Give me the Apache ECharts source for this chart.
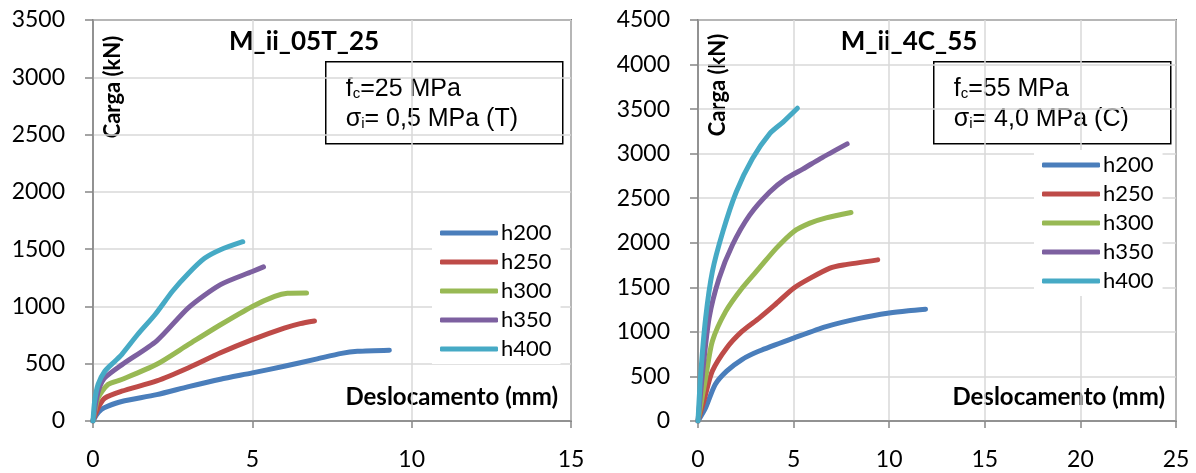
<!DOCTYPE html>
<html>
<head>
<meta charset="utf-8">
<script src="https://cdn.jsdelivr.net/npm/echarts@6/dist/echarts.min.js"></script>
<style>
  html, body { margin: 0; padding: 0; background: #fff; }
  #chart { width: 1196px; height: 473px; }
</style>
</head>
<body>
<div id="chart"></div>
<script>
// names of the curves (same in both panels)
const seriesNames = ['h200', 'h250', 'h300', 'h350', 'h400'];
const seriesColors = ['#4A7EBB', '#BE4B48', '#98B954', '#7D60A0', '#46AAC5'];

// left panel: M_ii_05T_25  [deslocamento (mm), carga (kN)]
const leftH200 = [[0, 0], [0.1, 50], [0.26, 100], [0.47, 130], [0.9, 170], [2, 230], [3, 300], [4, 365], [5, 420], [6, 478], [7, 540], [7.8, 590], [8.3, 608], [9.3, 618]];
const leftH250 = [[0, 0], [0.16, 115], [0.37, 200], [0.9, 260], [2, 350], [3, 465], [4, 595], [5, 710], [6, 810], [6.5, 850], [6.95, 873]];
const leftH300 = [[0, 0], [0.16, 200], [0.47, 318], [0.9, 362], [2, 495], [3, 668], [4, 840], [5, 1000], [5.7, 1088], [6.1, 1115], [6.7, 1118]];
const leftH350 = [[0, 0], [0.1, 180], [0.2, 290], [0.37, 377], [0.9, 490], [2, 700], [3, 990], [4, 1190], [5, 1305], [5.35, 1345]];
const leftH400 = [[0, 0], [0.05, 170], [0.16, 320], [0.37, 435], [0.68, 520], [0.9, 580], [1.4, 755], [1.95, 930], [2.5, 1135], [3, 1290], [3.5, 1420], [4, 1495], [4.7, 1565]];

// right panel: M_ii_4C_55
const rightH200 = [[0, 0], [0.4, 150], [0.9, 410], [1.5, 560], [2.3, 690], [3.2, 785], [5, 930], [6.7, 1060], [8.5, 1155], [10, 1212], [11, 1238], [11.9, 1255]];
const rightH250 = [[0, 0], [0.3, 220], [0.75, 560], [1.5, 820], [2.3, 1005], [3.2, 1155], [4, 1300], [5, 1490], [5.85, 1600], [6.9, 1715], [7.6, 1750], [9.4, 1808]];
const rightH300 = [[0, 0], [0.4, 485], [0.75, 895], [1.45, 1230], [2.3, 1490], [3.2, 1715], [4.1, 1940], [5, 2125], [5.85, 2220], [6.7, 2280], [8, 2340]];
const rightH350 = [[0, 0], [0.23, 520], [0.58, 1155], [1.1, 1600], [1.8, 1975], [2.7, 2310], [3.75, 2570], [4.6, 2720], [5.5, 2830], [6.4, 2945], [7.8, 3110]];
const rightH400 = [[0, 0], [0.14, 520], [0.4, 1155], [0.75, 1675], [1.3, 2125], [2, 2570], [2.85, 2945], [3.75, 3225], [4.45, 3355], [5.2, 3510]];

const leftData = [leftH200, leftH250, leftH300, leftH350, leftH400];
const rightData = [rightH200, rightH250, rightH300, rightH350, rightH400];

const calibriLike = 'Lato, "Open Sans", sans-serif';
const arialLike = '"Liberation Sans", Arial, sans-serif';

function xAxisFor(gridIndex, max) {
  return {
    type: 'value',
    gridIndex: gridIndex,
    min: 0,
    max: max,
    interval: 5,
    axisLine: { show: true, onZero: false, lineStyle: { color: '#868686', width: 1.5 } },
    axisTick: { show: true, length: 7, lineStyle: { color: '#868686', width: 1.5 } },
    splitLine: { show: true, lineStyle: { color: '#d9d9d9', width: 1.5 } },
    axisLabel: { margin: 27, fontSize: 23, color: '#000', fontFamily: calibriLike, formatter: v => String(v) }
  };
}

function yAxisFor(gridIndex, max) {
  return {
    type: 'value',
    gridIndex: gridIndex,
    min: 0,
    max: max,
    interval: 500,
    axisLine: { show: true, lineStyle: { color: '#868686', width: 1.5 } },
    axisTick: { show: true, length: 8, lineStyle: { color: '#868686', width: 1.5 } },
    splitLine: { show: true, lineStyle: { color: '#d9d9d9', width: 1.5 } },
    axisLabel: { margin: 28, fontSize: 23, color: '#000', fontFamily: calibriLike, formatter: v => String(v) }
  };
}

function buildSeries(dataSets, axisIndex) {
  return dataSets.map((d, i) => ({
    name: seriesNames[i],
    type: 'line',
    xAxisIndex: axisIndex,
    yAxisIndex: axisIndex,
    data: d,
    smooth: 0.25,
    showSymbol: false,
    silent: true,
    color: seriesColors[i],
    lineStyle: { width: 5, cap: 'round', join: 'round', color: seriesColors[i] }
  }));
}

function legendFor(left, top) {
  return {
    orient: 'vertical',
    left: left,
    top: top,
    data: seriesNames,
    icon: 'roundRect',
    itemWidth: 58,
    itemHeight: 5,
    itemGap: 5,
    padding: [3, 9, 3, 8],
    backgroundColor: '#fff',
    selectedMode: false,
    textStyle: { fontSize: 22, lineHeight: 24, color: '#000', fontFamily: calibriLike, padding: [0, 0, 0, -2] }
  };
}

function infoBox(x, y, line1, line2) {
  const rich = {
    n: { fontSize: 25, fontFamily: arialLike, fill: '#000' },
    s: { fontSize: 15, fontFamily: arialLike, fill: '#000', verticalAlign: 'bottom' }
  };
  return {
    type: 'group',
    left: x,
    top: y,
    children: [
      { type: 'rect', shape: { x: 0, y: 0, width: 237, height: 82 }, style: { fill: '#fff', stroke: '#000', lineWidth: 1.5 } },
      { type: 'text', x: 20, y: 27, style: { text: line1, fill: '#000', verticalAlign: 'middle', rich: rich } },
      { type: 'text', x: 20, y: 57, style: { text: line2, fill: '#000', verticalAlign: 'middle', rich: rich } }
    ]
  };
}

function boldText(x, y, text, extra) {
  return Object.assign({
    type: 'text', x: x, y: y,
    style: Object.assign({ text: text, fontSize: 24, fontWeight: 'bold', fontFamily: calibriLike, fill: '#000', align: 'right', verticalAlign: 'middle' }, (extra && extra.style) || {})
  }, extra && extra.rotation ? { rotation: extra.rotation } : {});
}

const chart = echarts.init(document.getElementById('chart'), null, { renderer: 'canvas' });

const option = {
  animation: false,
  backgroundColor: '#fff',
  grid: [
    { left: 93, top: 20, width: 478, bottom: 52, show: true, borderColor: '#1a1a1a', borderWidth: 1.5, backgroundColor: 'transparent' },
    { left: 698, top: 20, width: 478, bottom: 52, show: true, borderColor: '#1a1a1a', borderWidth: 1.5, backgroundColor: 'transparent' }
  ],
  xAxis: [xAxisFor(0, 15), xAxisFor(1, 25)],
  yAxis: [yAxisFor(0, 3500), yAxisFor(1, 4500)],
  legend: [legendFor(432, 218), legendFor(1034, 150)],
  series: buildSeries(leftData, 0).concat(buildSeries(rightData, 1)),
  graphic: [
    { type: 'text', x: 304, y: 42, style: { text: 'M_ii_05T_25', fontSize: 26, fontWeight: 'bold', fontFamily: calibriLike, fill: '#000', align: 'center', verticalAlign: 'middle' } },
    { type: 'text', x: 909, y: 42, style: { text: 'M_ii_4C_55', fontSize: 26, fontWeight: 'bold', fontFamily: calibriLike, fill: '#000', align: 'center', verticalAlign: 'middle' } },
    infoBox(325, 61, '{n|f}{s|c}{n|=25 MPa}', '{n|σ}{s|i}{n|= 0,5 MPa (T)}'),
    infoBox(933, 61, '{n|f}{s|c}{n|=55 MPa}', '{n|σ}{s|i}{n|= 4,0 MPa (C)}'),
    boldText(113, 87, 'Carga (kN)', { rotation: Math.PI / 2, style: { fontSize: 22, align: 'center' } }),
    boldText(718, 85, 'Carga (kN)', { rotation: Math.PI / 2, style: { fontSize: 22, align: 'center' } }),
    boldText(558, 397, 'Deslocamento (mm)'),
    boldText(1165, 397, 'Deslocamento (mm)')
  ]
};

chart.setOption(option);
</script>
</body>
</html>
